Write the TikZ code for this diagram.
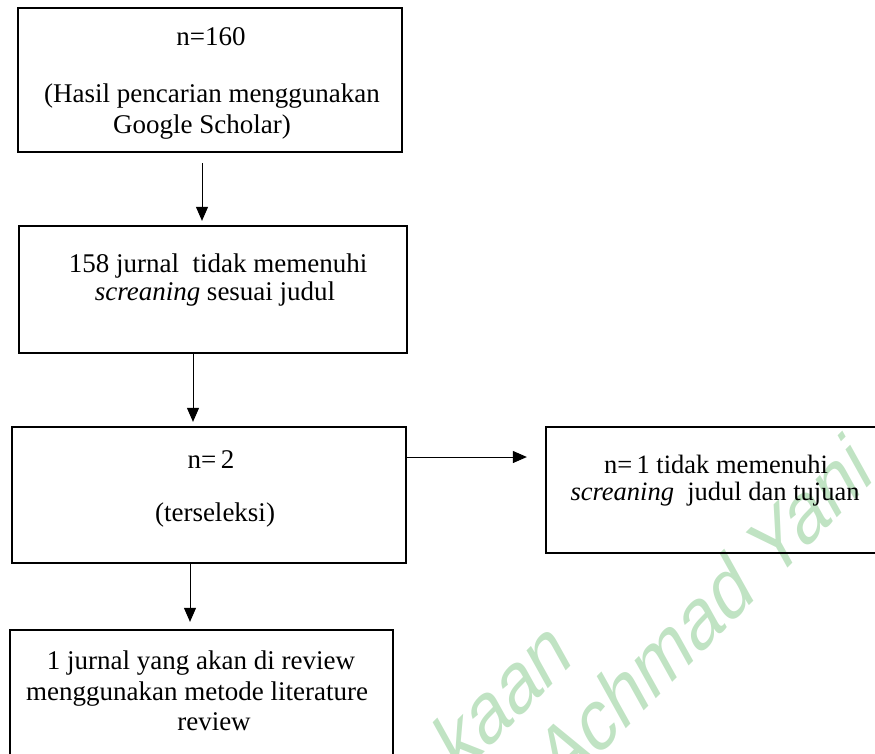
\documentclass[tikz,border=0pt]{standalone}
\usepackage{fontspec}
\setmainfont{Liberation Serif}
\newfontfamily\wmfont{Liberation Sans}
\usetikzlibrary{arrows.meta,calc}
\definecolor{wm}{HTML}{C0E3C3}
\begin{document}
\begin{tikzpicture}[x=1pt,y=-1pt,
  box/.style={draw, line width=2.3pt, inner sep=0pt},
  txt/.style={anchor=base, inner sep=0pt, font=\fontsize{27}{30}\selectfont},
  txts/.style={anchor=base, inner sep=0pt, font=\fontsize{26.5}{28}\selectfont},
  arr/.style={-{Triangle[length=14pt,width=12pt]}, line width=1pt},
  wmtxt/.style={inner sep=0pt, font=\wmfont\fontsize{67}{67}\selectfont, text=wm, yscale=1.34, rotate=36.7}]
\useasboundingbox (0,0) rectangle (875,753);
% watermark
\node[wmtxt, anchor=base east] (w1) at (575,662) {kaan};
\node[wmtxt, anchor=base west] (w2) at (560,795) {Achmad Yani};
% boxes
\node[box, minimum width=384pt, minimum height=144pt] (b1) at (210,80) {};
\node[box, minimum width=388pt, minimum height=127pt] (b2) at (213,289.5) {};
\node[box, minimum width=394pt, minimum height=136pt] (b3) at (209,495) {};
\node[box, minimum width=338pt, minimum height=126pt] (b4) at (715,490) {};
\node[box, minimum width=383pt, minimum height=140pt] (b5) at (201.5,700) {};
% texts
\node[txt] (t11) at (211,45) {n=160};
\node[txt] (t12) at (212,102) {(Hasil pencarian menggunakan};
\node[txt] (t13) at (202,133) {Google Scholar)};
\node[txt] (t21) at (218,272) {158 jurnal\ \ tidak memenuhi};
\node[txt] (t22) at (215,300) {\textit{screaning} sesuai judul};
\node[txt] (t31) at (211,468) {n=\,2};
\node[txt] (t32) at (215,521) {(terseleksi)};
\node[txts] (t41) at (716,473) {n=\,1 tidak memenuhi};
\node[txts] (t42) at (715,500) {\textit{screaning}\ \ judul dan tujuan};
\node[txt] (t51) at (201,669) {1 jurnal yang akan di review};
\node[txt] (t52) at (197,700) {menggunakan metode literature};
\node[txt] (t53) at (214,730) {review};
% connectors
\coordinate (x1) at (202,0);
\coordinate (x2) at (193,0);
\coordinate (y3) at (0,457);
\coordinate (x4) at (190,0);
\draw[arr, shorten <=10pt, shorten >=4pt] (b1.south -| x1) -- (b2.north -| x1);
\draw[arr, shorten >=4pt] (b2.south -| x2) -- (b3.north -| x2);
\draw[arr, shorten >=18pt] (b3.east |- y3) -- (b4.west |- y3);
\draw[arr, shorten >=7pt] (b3.south -| x4) -- (b5.north -| x4);
\end{tikzpicture}
\end{document}
